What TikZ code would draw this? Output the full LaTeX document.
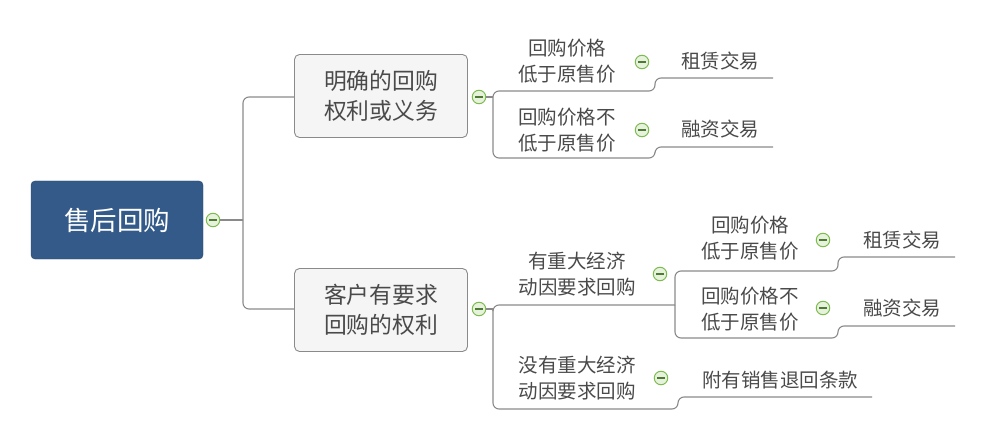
\documentclass[tikz,border=0pt]{standalone}
\usepackage{fontspec}
\setmainfont{Noto Sans CJK SC}
\begin{document}
\begin{tikzpicture}[x=1pt,y=-1pt,
  conn/.style={draw=linegray,line width=1.1pt,rounded corners=6pt},
  rootbox/.style={draw=rootblue!80!black,fill=rootblue,rounded corners=4pt,minimum width=172pt,minimum height=78pt,text=white,font=\fontsize{26.5}{30}\selectfont,inner sep=0pt},
  subbox/.style={draw=linegray,line width=0.9pt,fill=boxfill,rounded corners=5pt,minimum width=173pt,minimum height=83pt,text=txtgray,font=\fontsize{22.8}{30}\selectfont,align=center,inner sep=0pt},
  lbl/.style={text=txtgray,font=\fontsize{19.5}{26}\selectfont,align=center,inner sep=0pt},
  tog/.style={circle,draw=toggreen,line width=1pt,fill=togfill,minimum size=13.5pt,inner sep=0pt,
    path picture={\draw[line width=1.5pt,togdark] ([xshift=-3.6pt]path picture bounding box.center) -- ([xshift=3.6pt]path picture bounding box.center);}}
]
\definecolor{linegray}{HTML}{8A8A8A}
\definecolor{rootblue}{HTML}{335A88}
\definecolor{boxfill}{HTML}{F5F5F5}
\definecolor{txtgray}{HTML}{4A4A4A}
\definecolor{toggreen}{HTML}{7DBB4F}
\definecolor{togfill}{HTML}{E6F2DC}
\definecolor{togdark}{HTML}{4E7A35}
\useasboundingbox (0,0) rectangle (986,441);

% root
\node[rootbox] (root) at (117,220) {售后回购};
\node[tog] (rt) at (213,220) {};
\coordinate (j0) at (243,220);

% level 1 boxes
\node[subbox] (b1) at (381,96) {明确的回购\\权利或义务};
\node[subbox] (b2) at (381,310) {客户有要求\\回购的权利};
\node[tog] (t1) at (479,97) {};
\node[tog] (t2) at (479,309) {};

\draw[conn] (rt.east) -- (j0);
\draw[conn] (b1.west |- 0,97) -| (j0);
\draw[conn] (b2.west |- 0,309) -| (j0);

% branch 1 children
\coordinate (j1) at (493,97);
\draw[conn] (t1.east) -- (j1);
\node[lbl] (c11) at (567,61) {回购价格\\低于原售价};
\node[lbl] (c12) at (567,130) {回购价格不\\低于原售价};
\node[tog] (t11) at (642,62) {};
\node[tog] (t12) at (642,130) {};
\node[lbl] (g11) at (720,61) {租赁交易};
\node[lbl] (g12) at (720,129) {融资交易};
\coordinate (u11) at (655,91);
\coordinate (u12) at (655,158);
\coordinate (e11) at (773,78);
\coordinate (e12) at (773,147);
\draw[conn] (j1) |- (u11) -- (u11 |- e11) -- (e11);
\draw[conn] (j1) |- (u12) -- (u12 |- e12) -- (e12);

% branch 2 children
\coordinate (j2) at (493,309);
\draw[conn] (t2.east) -- (j2);
\node[lbl] (c21) at (577,274) {有重大经济\\动因要求回购};
\node[lbl] (c22) at (577,378) {没有重大经济\\动因要求回购};
\node[tog] (t21) at (660,274) {};
\node[tog] (t22) at (661,378) {};
\coordinate (j3) at (675,305);
\draw[conn] (j2) |- (j3);

\node[lbl] (g21) at (750,238) {回购价格\\低于原售价};
\node[lbl] (g22) at (750,309) {回购价格不\\低于原售价};
\node[tog] (t31) at (823,240) {};
\node[tog] (t32) at (823,308) {};
\node[lbl] (h31) at (902,240) {租赁交易};
\node[lbl] (h32) at (902,308) {融资交易};
\coordinate (u31) at (838,271);
\coordinate (u32) at (838,338);
\coordinate (e31) at (955,257);
\coordinate (e32) at (955,326);
\draw[conn] (j3) |- (u31) -- (u31 |- e31) -- (e31);
\draw[conn] (j3) |- (u32) -- (u32 |- e32) -- (e32);

\node[lbl] (h33) at (780,380) {附有销售退回条款};
\coordinate (u22) at (678,409);
\coordinate (e22) at (872,397);
\draw[conn] (j2) |- (u22) -- (u22 |- e22) -- (e22);
\end{tikzpicture}
\end{document}
